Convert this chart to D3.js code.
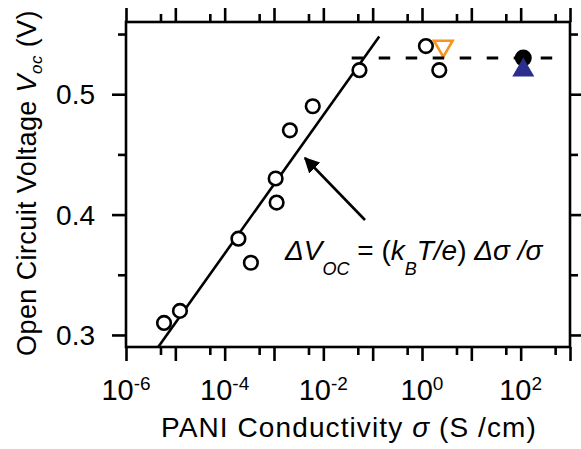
<!DOCTYPE html>
<html>
<head>
<meta charset="utf-8">
<script src="https://cdn.jsdelivr.net/npm/d3@7"></script>
<style>
  body { margin: 0; background: #fff; }
  text { font-family: "Liberation Sans", Arial, sans-serif; fill: #000; }
</style>
</head>
<body>
<svg id="chart" width="581" height="449"></svg>
<script>
// open circles: conductivity (S/cm) and Voc (V)
var sigma = [5.9e-6, 1.24e-5, 1.9e-4, 3.4e-4, 1.08e-3, 1.13e-3, 2.1e-3, 6.1e-3, 0.054, 1.2, 2.24];
var voc   = [0.31,   0.32,    0.38,   0.36,   0.43,    0.41,    0.47,   0.49,   0.52,  0.54, 0.52];

// special markers
var orangeSigma = [2.7],  orangeVoc = [0.54];
var blackSigma  = [113],  blackVoc  = [0.53];
var blueSigma   = [113],  blueVoc   = [0.52];

// fit line and plateau
var fitSigma  = [4.5e-6, 0.136];
var fitVoc    = [0.29, 0.548];
var plateauSigma = [0.0376, 571];
var plateauVoc   = [0.53, 0.53];

// ticks
var xMajor = [1e-6, 1e-5, 1e-4, 1e-3, 1e-2, 1e-1, 1e0, 1e1, 1e2, 1e3];
var xMinor = [5e-6, 5e-5, 5e-4, 5e-3, 5e-2, 5e-1, 5e0, 5e1, 5e2];
var xLabelExp = [-6, -4, -2, 0, 2];
var yMajor = [0.3, 0.4, 0.5];
var yMinor = [0.35, 0.45, 0.55];

var svg = d3.select('#chart');
var mLeft = 126, mRight = 570, mTop = 22, mBottom = 347;
var lw = 2.6;

var x = d3.scaleLog().domain([1e-6, 1e3]).range([mLeft, mRight]);
var y = d3.scaleLinear().domain([0.29, 0.56]).range([mBottom, mTop]);

function ticks(axis, vals, size) {
    return axis.tickValues(vals).tickSize(size).tickFormat('');
}
function styleAxis(g) {
    g.select('.domain').remove();
    g.selectAll('line').attr('stroke', '#000').attr('stroke-width', lw);
}

// x ticks (bottom and top, outward)
svg.append('g').attr('transform', 'translate(0,' + mBottom + ')')
    .call(ticks(d3.axisBottom(x), xMajor, 14)).call(styleAxis);
svg.append('g').attr('transform', 'translate(0,' + mBottom + ')')
    .call(ticks(d3.axisBottom(x), xMinor, 8)).call(styleAxis);
svg.append('g').attr('transform', 'translate(0,' + mTop + ')')
    .call(ticks(d3.axisTop(x), xMajor, 14)).call(styleAxis);
svg.append('g').attr('transform', 'translate(0,' + mTop + ')')
    .call(ticks(d3.axisTop(x), xMinor, 8)).call(styleAxis);

// y ticks (left and right, outward)
svg.append('g').attr('transform', 'translate(' + mLeft + ',0)')
    .call(ticks(d3.axisLeft(y), yMajor, 14)).call(styleAxis);
svg.append('g').attr('transform', 'translate(' + mLeft + ',0)')
    .call(ticks(d3.axisLeft(y), yMinor, 8)).call(styleAxis);
svg.append('g').attr('transform', 'translate(' + mRight + ',0)')
    .call(ticks(d3.axisRight(y), yMajor, 14)).call(styleAxis);
svg.append('g').attr('transform', 'translate(' + mRight + ',0)')
    .call(ticks(d3.axisRight(y), yMinor, 8)).call(styleAxis);

// frame
svg.append('rect')
    .attr('x', mLeft).attr('y', mTop)
    .attr('width', mRight - mLeft).attr('height', mBottom - mTop)
    .attr('fill', 'none').attr('stroke', '#000').attr('stroke-width', lw);

// tick labels
svg.selectAll('.ylab').data(yMajor).enter().append('text')
    .attr('x', 95).attr('y', d => y(d) + 10)
    .attr('text-anchor', 'end').attr('font-size', 28)
    .text(d => d.toFixed(1));

var xl = svg.selectAll('.xlab').data(xLabelExp).enter().append('text')
    .attr('x', d => x(Math.pow(10, d))).attr('y', 400)
    .attr('text-anchor', 'middle').attr('font-size', 29);
xl.append('tspan').text('10');
xl.append('tspan').attr('font-size', 19).attr('dy', -10).text(d => d);

// axis titles
var xt = svg.append('text').attr('x', 161).attr('y', 437)
    .attr('font-size', 28).attr('letter-spacing', 1.1);
xt.append('tspan').text('PANI Conductivity ');
xt.append('tspan').attr('font-style', 'italic').text('σ');
xt.append('tspan').text('  (S /cm)');

var yt = svg.append('text').attr('transform', 'translate(36,183) rotate(-90)')
    .attr('text-anchor', 'middle').attr('font-size', 27).attr('letter-spacing', 0.4);
yt.append('tspan').text('Open Circuit Voltage ');
yt.append('tspan').attr('font-style', 'italic').text('V');
yt.append('tspan').attr('font-style', 'italic').attr('font-size', 17).attr('dy', 6).text('oc');
yt.append('tspan').attr('dy', -6).text(' (V)');

// clip for lines
svg.append('clipPath').attr('id', 'clip').append('rect')
    .attr('x', mLeft).attr('y', mTop).attr('width', mRight - mLeft).attr('height', mBottom - mTop);

var line = d3.line().x(d => x(d[0])).y(d => y(d[1]));

svg.append('path')
    .datum(d3.zip(fitSigma, fitVoc))
    .attr('d', line).attr('clip-path', 'url(#clip)')
    .attr('fill', 'none').attr('stroke', '#000').attr('stroke-width', lw);

// open circles
svg.selectAll('.pt').data(d3.zip(sigma, voc)).enter().append('circle')
    .attr('cx', d => x(d[0])).attr('cy', d => y(d[1])).attr('r', 6.8)
    .attr('fill', '#fff').attr('stroke', '#000').attr('stroke-width', lw);

// orange down triangle
svg.selectAll('.or').data(d3.zip(orangeSigma, orangeVoc)).enter().append('path')
    .attr('d', d3.symbol(d3.symbolTriangle, 150))
    .attr('transform', d => 'translate(' + x(d[0]) + ',' + y(d[1]) + ') rotate(180)')
    .attr('fill', '#fff').attr('stroke', '#f7941d').attr('stroke-width', lw);

// dashed plateau
svg.append('path')
    .datum(d3.zip(plateauSigma, plateauVoc))
    .attr('d', line)
    .attr('fill', 'none').attr('stroke', '#000').attr('stroke-width', lw + 0.4)
    .attr('stroke-dasharray', '11.5,15.5');

// black filled circle
svg.selectAll('.bk').data(d3.zip(blackSigma, blackVoc)).enter().append('circle')
    .attr('cx', d => x(d[0])).attr('cy', d => y(d[1])).attr('r', 8.5)
    .attr('fill', '#000');

// blue up triangle
svg.selectAll('.bl').data(d3.zip(blueSigma, blueVoc)).enter().append('path')
    .attr('d', d3.symbol(d3.symbolTriangle, 210))
    .attr('transform', d => 'translate(' + x(d[0]) + ',' + y(d[1]) + ')')
    .attr('fill', '#2b2e8c');

// arrow
svg.append('defs').append('marker')
    .attr('id', 'head').attr('viewBox', '0 0 10 10')
    .attr('refX', 9).attr('refY', 5)
    .attr('markerWidth', 6).attr('markerHeight', 6)
    .attr('markerUnits', 'strokeWidth')
    .attr('orient', 'auto')
    .append('path').attr('d', 'M0,0 L10,5 L0,10 z').attr('fill', '#000');

svg.append('line')
    .attr('x1', 365).attr('y1', 220).attr('x2', 305).attr('y2', 158)
    .attr('stroke', '#000').attr('stroke-width', lw)
    .attr('marker-end', 'url(#head)');

// equation
var eq = svg.append('text').attr('x', 285).attr('y', 260).attr('font-size', 28);
eq.append('tspan').attr('font-style', 'italic').text('ΔV');
eq.append('tspan').attr('font-style', 'italic').attr('font-size', 18).attr('dy', 15).text('OC');
eq.append('tspan').attr('dy', -15).text(' = (');
eq.append('tspan').attr('font-style', 'italic').text('k');
eq.append('tspan').attr('font-style', 'italic').attr('font-size', 18).attr('dy', 15).text('B');
eq.append('tspan').attr('dy', -15).attr('font-style', 'italic').text('T/e');
eq.append('tspan').text(') ');
eq.append('tspan').attr('font-style', 'italic').text('Δσ /σ');
</script>
</body>
</html>
